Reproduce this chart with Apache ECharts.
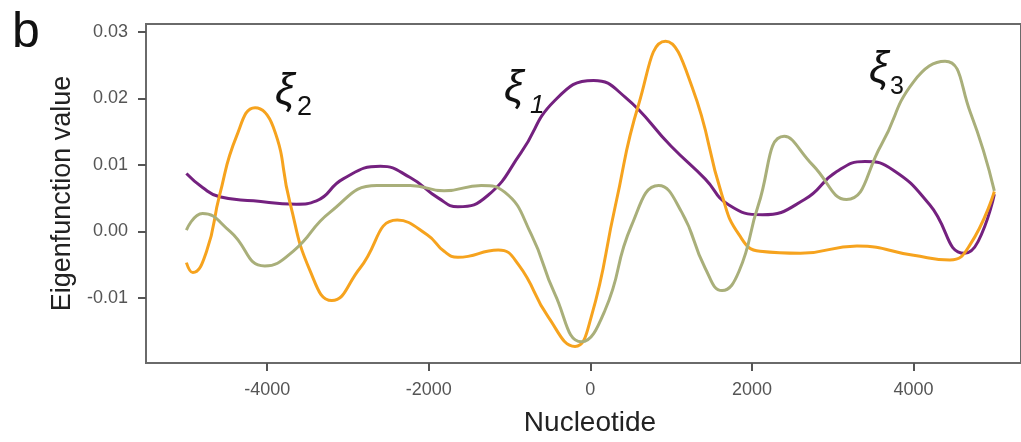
<!DOCTYPE html>
<html>
<head>
<meta charset="utf-8">
<script src="https://cdn.jsdelivr.net/npm/echarts@6/dist/echarts.min.js"></script>
<style>
  html, body { margin: 0; padding: 0; background: #ffffff; }
  #chart { width: 1021px; height: 442px; }
</style>
</head>
<body>
<div id="chart"></div>
<script>
// Eigenfunctions along the nucleotide coordinate: [position, value]
const xi1 = [
  [-5000, 0.0087], [-4800, 0.0066], [-4590, 0.0052], [-4170, 0.0046], [-3640, 0.0041],
  [-3390, 0.0046], [-3060, 0.0079], [-2600, 0.0098], [-2230, 0.0081], [-1880, 0.0050],
  [-1640, 0.0037], [-1270, 0.0054], [-860, 0.0118], [-440, 0.0197], [40, 0.0227],
  [430, 0.0202], [1000, 0.0128], [1420, 0.0079], [1710, 0.0040], [2130, 0.0025],
  [2650, 0.0048], [3050, 0.0090], [3400, 0.0105], [3750, 0.0092], [4200, 0.0040],
  [4630, -0.0033], [4800, -0.0015], [5000, 0.0056]
];
const xi2 = [
  [-5000, -0.0047], [-4920, -0.0062], [-4750, -0.0030], [-4590, 0.0054], [-4380, 0.0143],
  [-4150, 0.0186], [-3925, 0.0157], [-3720, 0.0044], [-3470, -0.0059], [-3200, -0.0104],
  [-2850, -0.0055], [-2390, 0.0017], [-2020, -0.0005], [-1810, -0.0030], [-1640, -0.0039],
  [-1140, -0.0028], [-890, -0.0050], [-520, -0.0129], [-190, -0.0173], [10, -0.0129],
  [310, 0.0039], [600, 0.0192], [930, 0.0286], [1260, 0.0217], [1630, 0.0054],
  [1840, -0.0005], [2100, -0.0030], [2600, -0.0033], [3300, -0.0022], [4000, -0.0036],
  [4450, -0.0043], [4700, -0.0020], [5000, 0.0060]
];
const xi3 = [
  [-5000, 0.0002], [-4800, 0.0027], [-4460, 0.0000], [-4030, -0.0052], [-3680, -0.0030],
  [-3220, 0.0029], [-2640, 0.0069], [-2230, 0.0069], [-1810, 0.0061], [-1350, 0.0069],
  [-1060, 0.0059], [-730, -0.0005], [-440, -0.0094], [-110, -0.0166], [180, -0.0119],
  [510, 0.0009], [845, 0.0069], [1130, 0.0029], [1420, -0.0055], [1630, -0.0089],
  [1840, -0.0060], [2080, 0.0040], [2400, 0.0143], [2750, 0.0100], [3170, 0.0048],
  [3600, 0.0130], [4000, 0.0225], [4390, 0.0256], [4700, 0.0180], [5000, 0.0061]
];
const xTicks = [-4000, -2000, 0, 2000, 4000];
const yTicks = [-0.01, 0.00, 0.01, 0.02, 0.03];

const FONT = '"Liberation Sans", Arial, sans-serif';
const chart = echarts.init(document.getElementById('chart'), null, { renderer: 'canvas' });

function curve(name, data, color) {
  return {
    name, type: 'line', data,
    smooth: 0.5,
    showSymbol: false, symbol: 'none',
    lineStyle: { color, width: 3 },
    z: 3
  };
}

const frameLine = { show: true, onZero: false, lineStyle: { color: '#6a6a6a', width: 2 } };

chart.setOption({
  animation: false,
  backgroundColor: '#ffffff',
  grid: {
    left: 146, top: 24, right: -2, bottom: 76,
    show: true, borderColor: '#6a6a6a', borderWidth: 2, backgroundColor: 'transparent'
  },
  xAxis: {
    type: 'value', min: -5500, max: 5330,
    name: 'Nucleotide', nameLocation: 'middle', nameGap: 46,
    nameTextStyle: { fontFamily: FONT, fontSize: 28, color: '#222', padding: [0, 0, 0, 13] },
    axisLine: frameLine,
    axisTick: { show: true, inside: false, length: 8, lineStyle: { color: '#555', width: 2 }, customValues: xTicks },
    axisLabel: { fontFamily: FONT, fontSize: 18, color: '#555', margin: 18, customValues: xTicks,
                 formatter: v => String(v) },
    splitLine: { show: false }
  },
  yAxis: {
    type: 'value', min: -0.0198, max: 0.0312,
    name: 'Eigenfunction value', nameLocation: 'middle', nameGap: 62,
    nameTextStyle: { fontFamily: FONT, fontSize: 27, color: '#222' },
    axisLine: frameLine,
    axisTick: { show: true, inside: false, length: 8, lineStyle: { color: '#555', width: 2 }, customValues: yTicks },
    axisLabel: { fontFamily: FONT, fontSize: 18, color: '#555', margin: 18, customValues: yTicks,
                 formatter: v => v.toFixed(2) },
    splitLine: { show: false }
  },
  series: [
    curve('ξ1', xi1, '#74217f'),
    curve('ξ2', xi2, '#f6a31e'),
    curve('ξ3', xi3, '#a9af7a')
  ],
  graphic: [
    { type: 'text', left: 12, top: 8, style: { text: 'b', font: '50px ' + FONT, fill: '#111' } },
    { type: 'text', x: 504, y: 89, style: { text: 'ξ', font: 'italic 44px ' + FONT, fill: '#111', verticalAlign: 'middle' } },
    { type: 'text', x: 530, y: 106, style: { text: '1', font: 'italic 26px ' + FONT, fill: '#111', verticalAlign: 'middle' } },
    { type: 'text', x: 275, y: 92, style: { text: 'ξ', font: 'italic 44px ' + FONT, fill: '#111', verticalAlign: 'middle' } },
    { type: 'text', x: 297, y: 108, style: { text: '2', font: '27px ' + FONT, fill: '#111', verticalAlign: 'middle' } },
    { type: 'text', x: 869, y: 70, style: { text: 'ξ', font: 'italic 44px ' + FONT, fill: '#111', verticalAlign: 'middle' } },
    { type: 'text', x: 890, y: 87, style: { text: '3', font: '25px ' + FONT, fill: '#111', verticalAlign: 'middle' } }
  ]
});
</script>
</body>
</html>
